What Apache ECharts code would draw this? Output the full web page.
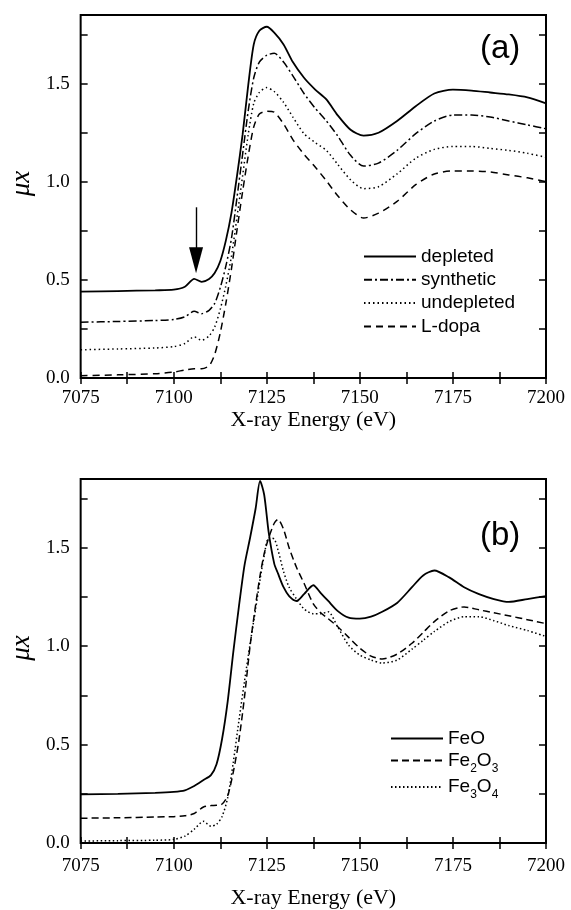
<!DOCTYPE html>
<html>
<head>
<meta charset="utf-8">
<script src="https://cdn.jsdelivr.net/npm/echarts@6/dist/echarts.min.js"></script>
<style>
  html, body { margin: 0; padding: 0; background: #fff; }
  #main { width: 571px; height: 910px; }
</style>
</head>
<body>
<div id="main"></div>
<script>
// panel (a): energy grid and the four spectra
var energyA = [7075, 7085, 7095, 7100, 7103, 7105.5, 7107.5, 7109.5, 7111, 7112.5, 7114, 7115.5, 7117, 7118.5,
    7120, 7121.5, 7123, 7125, 7127, 7129.5, 7132, 7135, 7138, 7141, 7144, 7147.5, 7151, 7155, 7160, 7165,
    7170, 7175, 7180, 7185, 7190, 7195, 7200];
var depleted = [0.44, 0.443, 0.447, 0.45, 0.465, 0.505, 0.49, 0.505, 0.535, 0.595, 0.70, 0.84, 1.03, 1.24,
    1.49, 1.70, 1.77, 1.79, 1.76, 1.70, 1.61, 1.53, 1.47, 1.42, 1.34, 1.265, 1.235, 1.25, 1.31, 1.385,
    1.45, 1.47, 1.465, 1.455, 1.445, 1.43, 1.40];
var synthetic = [0.284, 0.288, 0.293, 0.298, 0.312, 0.34, 0.328, 0.345, 0.38, 0.46, 0.57, 0.71, 0.92, 1.14,
    1.36, 1.53, 1.61, 1.645, 1.655, 1.61, 1.54, 1.45, 1.375, 1.31, 1.235, 1.135, 1.08, 1.095, 1.16, 1.245,
    1.31, 1.34, 1.34, 1.33, 1.31, 1.29, 1.27];
var undepleted = [0.144, 0.148, 0.153, 0.16, 0.176, 0.21, 0.192, 0.215, 0.26, 0.35, 0.47, 0.62, 0.82, 1.03,
    1.24, 1.40, 1.455, 1.48, 1.46, 1.405, 1.33, 1.245, 1.20, 1.16, 1.09, 1.01, 0.965, 0.975, 1.04, 1.12,
    1.165, 1.18, 1.18, 1.17, 1.16, 1.145, 1.125];
var ldopa = [0.012, 0.016, 0.022, 0.03, 0.041, 0.047, 0.047, 0.062, 0.12, 0.23, 0.38, 0.555, 0.755, 0.95,
    1.13, 1.28, 1.345, 1.36, 1.355, 1.295, 1.215, 1.14, 1.075, 1.005, 0.93, 0.857, 0.815, 0.84, 0.90, 0.985,
    1.04, 1.055, 1.055, 1.05, 1.035, 1.02, 1.0];

// panel (b): iron oxide references
var energyB = [7075, 7085, 7095, 7100, 7103, 7105.5, 7108, 7110, 7111.5, 7113, 7114.5, 7116, 7117.5, 7119,
    7120.5, 7122, 7123.2, 7124.3, 7125.5, 7127, 7128, 7129.5, 7131, 7133, 7135, 7137.5, 7139.5, 7141.5,
    7144, 7147, 7150, 7153, 7156, 7160, 7164, 7167, 7170, 7174, 7178, 7182, 7186, 7190, 7195, 7200];
var feo = [0.247, 0.25, 0.255, 0.26, 0.268, 0.29, 0.32, 0.345, 0.40, 0.53, 0.72, 0.97, 1.20, 1.41,
    1.55, 1.70, 1.84, 1.77, 1.58, 1.42, 1.37, 1.30, 1.255, 1.23, 1.265, 1.31, 1.27, 1.23,
    1.18, 1.145, 1.14, 1.15, 1.175, 1.22, 1.30, 1.36, 1.385, 1.35, 1.30, 1.265, 1.24, 1.225, 1.24, 1.255];
var fe2o3 = [0.126, 0.128, 0.132, 0.134, 0.138, 0.15, 0.183, 0.19, 0.192, 0.198, 0.24, 0.36, 0.52, 0.74,
    1.00, 1.21, 1.36, 1.47, 1.55, 1.625, 1.645, 1.595, 1.50, 1.40, 1.32, 1.215, 1.17, 1.14,
    1.10, 1.045, 0.99, 0.95, 0.935, 0.96, 1.015, 1.07, 1.125, 1.18, 1.20, 1.185, 1.17, 1.155, 1.135, 1.115];
var fe3o4 = [0.01, 0.012, 0.014, 0.018, 0.035, 0.07, 0.11, 0.085, 0.095, 0.135, 0.23, 0.41, 0.62, 0.82,
    1.01, 1.19, 1.34, 1.46, 1.55, 1.545, 1.49, 1.38, 1.30, 1.24, 1.19, 1.165, 1.165, 1.175,
    1.10, 1.005, 0.955, 0.93, 0.915, 0.93, 0.985, 1.03, 1.075, 1.125, 1.15, 1.15, 1.13, 1.105, 1.08, 1.05];

// pre-edge arrow in (a): energy, start and end of the shaft
var arrowX = 7106, arrowFrom = 0.87, arrowTo = 0.60;

var namesA = ['depleted', 'synthetic', 'undepleted', 'L-dopa'];
var namesB = ['FeO', 'Fe2O3', 'Fe3O4'];

function pairs(xs, ys) {
    var out = [];
    for (var i = 0; i < xs.length; i++) out.push([xs[i], ys[i]]);
    return out;
}

var serif = '"Liberation Serif", "Times New Roman", serif';
var sans = '"Liberation Sans", Arial, sans-serif';

function xAxes(gridIndex, labelMargin, nameGap) {
    return [
        {
            gridIndex: gridIndex, type: 'value', position: 'bottom',
            min: 7075, max: 7200, interval: 12.5,
            name: 'X-ray Energy (eV)', nameLocation: 'middle', nameGap: nameGap,
            nameTextStyle: { fontFamily: serif, fontSize: 22, color: '#000' },
            axisLine: { show: false },
            axisTick: { inside: true, length: 6, lineStyle: { color: '#000', width: 1.5 } },
            axisLabel: {
                margin: labelMargin, fontFamily: serif, fontSize: 19, color: '#000',
                formatter: function (v) { return v % 25 === 0 ? String(v) : ''; }
            },
            splitLine: { show: false }
        },
        {
            gridIndex: gridIndex, type: 'value', position: 'top',
            min: 7075, max: 7200, interval: 12.5,
            axisLine: { show: false },
            axisTick: { inside: true, length: 6, lineStyle: { color: '#000', width: 1.5 } },
            axisLabel: { show: false },
            splitLine: { show: false }
        }
    ];
}

function yAxes(gridIndex) {
    return [
        {
            gridIndex: gridIndex, type: 'value', position: 'left',
            min: 0, max: 1.85, interval: 0.25,
            name: 'μx', nameLocation: 'middle', nameGap: 38,
            nameTextStyle: { fontFamily: serif, fontStyle: 'italic', fontSize: 27, color: '#000', padding: [0, 0, 0, 26] },
            axisLine: { show: false },
            axisTick: { inside: true, length: 7, lineStyle: { color: '#000', width: 1.5 } },
            axisLabel: {
                margin: 11, fontFamily: serif, fontSize: 19, color: '#000',
                formatter: function (v) {
                    var k = v / 0.5;
                    return Math.abs(k - Math.round(k)) < 1e-6 ? v.toFixed(1) : '';
                }
            },
            splitLine: { show: false }
        },
        {
            gridIndex: gridIndex, type: 'value', position: 'right',
            min: 0, max: 1.85, interval: 0.25,
            axisLine: { show: false },
            axisTick: { inside: true, length: 7, lineStyle: { color: '#000', width: 1.5 } },
            axisLabel: { show: false },
            splitLine: { show: false }
        }
    ];
}

function line(name, xIdx, xs, ys, dash, width) {
    return {
        name: name, type: 'line',
        xAxisIndex: xIdx, yAxisIndex: xIdx,
        data: pairs(xs, ys),
        smooth: 0.25,
        symbol: 'none',
        color: '#000',
        lineStyle: { color: '#000', width: width || 1.5, type: dash },
        silent: true
    };
}

var myChart = echarts.init(document.getElementById('main'), null, { renderer: 'canvas' });

var depletedSeries = line('depleted', 0, energyA, depleted, 'solid', 1.8);
depletedSeries.markLine = {
    silent: true,
    symbol: ['none', 'triangle'],
    symbolSize: [14, 26],
    label: { show: false },
    lineStyle: { color: '#000', width: 1.4, type: 'solid' },
    data: [[{ coord: [arrowX, arrowFrom] }, { coord: [arrowX, arrowTo] }]]
};

var option = {
    animation: false,
    backgroundColor: '#fff',
    title: [
        { text: '(a)', left: 475, top: 27, textStyle: { fontFamily: sans, fontSize: 33, fontWeight: 'normal', color: '#000' } },
        { text: '(b)', left: 475, top: 514, textStyle: { fontFamily: sans, fontSize: 33, fontWeight: 'normal', color: '#000' } }
    ],
    grid: [
        { left: 80, top: 15, width: 466, height: 363, show: true, borderColor: '#000', borderWidth: 2, backgroundColor: 'transparent' },
        { left: 80, top: 479, width: 466, height: 366, show: true, borderColor: '#000', borderWidth: 2, backgroundColor: 'transparent' }
    ],
    xAxis: xAxes(0, 11, 31).concat(xAxes(1, 14, 44)),
    yAxis: yAxes(0).concat(yAxes(1)),
    legend: [
        {
            data: namesA, orient: 'vertical', left: 358, top: 242,
            itemWidth: 52, itemHeight: 12, itemGap: 4.3,
            itemStyle: { opacity: 0 },
            textStyle: { fontFamily: sans, fontSize: 19, lineHeight: 19, color: '#000' },
            selectedMode: false
        },
        {
            data: namesB, orient: 'vertical', left: 385, top: 724,
            itemWidth: 52, itemHeight: 12, itemGap: 3,
            itemStyle: { opacity: 0 },
            formatter: function (name) {
                if (name === 'Fe2O3') return 'Fe{s|2}O{s|3}';
                if (name === 'Fe3O4') return 'Fe{s|3}O{s|4}';
                return name;
            },
            textStyle: {
                fontFamily: sans, fontSize: 19, lineHeight: 19, color: '#000',
                rich: { s: { fontFamily: sans, fontSize: 12, color: '#000', padding: [16, 0, 0, 0] } }
            },
            selectedMode: false
        }
    ],
    series: [
        depletedSeries,
        line('synthetic', 0, energyA, synthetic, [8, 3, 2, 3]),
        line('undepleted', 0, energyA, undepleted, [1.5, 3]),
        line('L-dopa', 0, energyA, ldopa, [7, 5]),
        line('FeO', 2, energyB, feo, 'solid', 1.8),
        line('Fe2O3', 2, energyB, fe2o3, [7, 4]),
        line('Fe3O4', 2, energyB, fe3o4, [1.5, 2.5])
    ]
};
// yAxis indices of panel (b) are 2 and 3, same as the x ones
myChart.setOption(option);
</script>
</body>
</html>
